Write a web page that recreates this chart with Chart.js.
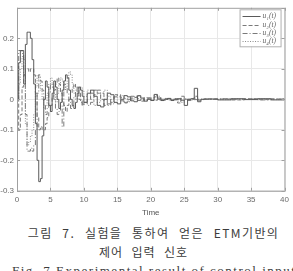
<!DOCTYPE html>
<html lang="ko">
<head>
    <meta charset="UTF-8">
    <title>ETM control input</title>
    <script src="https://cdn.jsdelivr.net/npm/chart.js"></script>
    <style>
        body {
            margin: 0;
            background: #fff;
            width: 293px;
            height: 271px;
            overflow: hidden;
        }
        #chartBox {
            width: 293px;
            height: 218px;
        }
        #caption {
            text-align: center;
            color: #3c3c3c;
            line-height: 19px;
            margin-top: 5px;
        }
        .ko {
            font-family: "Noto Sans CJK KR", sans-serif;
            font-size: 12px;
        }
        .en {
            font-family: "Liberation Serif", serif;
            font-size: 13px;
            letter-spacing: 1.5px;
            white-space: nowrap;
            text-align: left;
            padding-left: 12px;
        }
    </style>
</head>
<body>
    <div id="chartBox"><canvas id="inputChart" width="293" height="218"></canvas></div>
    <div id="caption">
        <div class="ko" style="padding-left:14px; letter-spacing:1.4px; word-spacing:5px">그림 7. 실험을 통하여 얻은 ETM기반의</div>
        <div class="ko" style="letter-spacing:1px; word-spacing:4px; padding-right:6px">제어 입력 신호</div>
        <div class="en">Fig. 7 Experimental result of control input</div>
    </div>

    <script>
        // time stamps (s) shared by all four inputs
        const time = [
            0, 0.25, 0.5, 0.75, 1, 1.25, 1.5, 1.75, 2, 2.25, 2.5, 2.75, 3, 3.25, 3.5, 3.75,
            4, 4.25, 4.5, 4.75, 5, 5.25, 5.5, 5.75, 6, 6.25, 6.5, 6.75, 7, 7.25, 7.5, 7.75,
            8, 8.25, 8.5, 8.75, 9, 9.25, 9.5, 9.75, 10,
            10.5, 11, 11.5, 12, 12.5, 13, 13.5, 14, 14.5, 15, 15.5, 16, 16.5, 17, 17.5, 18,
            18.5, 19, 19.5, 20, 20.5, 21, 21.5, 22, 22.5, 23, 23.5, 24, 24.5, 25, 25.5, 26,
            26.5, 27, 27.5, 28,
            30, 32, 34, 36, 38, 40
        ];

        const u1 = [
            0, 0.12, 0.16, 0.16, 0.05, 0.18, 0.22, 0.22, 0.2, 0.13, 0.05, -0.08, -0.2, -0.27, -0.26, -0.12,
            0.0, 0.06, 0.04, -0.02, -0.04, 0.02, 0.06, 0.04, 0.0, -0.03, -0.01, 0.03, 0.06, 0.08, 0.07, 0.03,
            0.0, -0.02, -0.03, -0.01, 0.02, 0.04, 0.03, 0.01, -0.01,
            0.02, 0.03, 0.01, -0.02, -0.025, 0.0, 0.02, 0.015, -0.01, -0.015, 0.0, 0.012, 0.008, -0.005, -0.008, 0.012,
            0.004, -0.006, 0.0, -0.004, 0.016, 0.004, -0.004, 0.0, 0.003, -0.004, 0.0, 0.002, -0.003, -0.02, 0.0, 0.002,
            0.036, -0.008, 0.0, 0.001,
            -0.002, 0.002, -0.001, 0.002, -0.002, 0.001
        ];
        const u2 = [
            0, -0.1, -0.05, 0.04, 0.08, 0.1, 0.1, 0.09, 0.1, 0.1, 0.08, 0.02, -0.06, -0.1, -0.09, -0.1,
            -0.1, -0.08, -0.06, -0.04, -0.02, 0.01, 0.03, 0.05, 0.07, 0.05, 0.02, -0.01, -0.02, -0.04, -0.02, 0.0,
            0.02, 0.04, 0.05, 0.04, 0.02, 0.0, -0.01, -0.02, -0.01,
            0.0, 0.02, 0.03, 0.02, 0.0, -0.02, -0.015, 0.0, 0.015, 0.01, -0.005, -0.012, 0.0, 0.01, 0.006, -0.004,
            -0.002, 0.006, 0.003, -0.003, 0.008, 0.0, -0.004, 0.002, 0.0, -0.002, 0.002, -0.012, 0.003, 0.0, -0.004, 0.0,
            0.01, -0.003, 0.0, 0.001,
            0.001, -0.002, 0.002, -0.001, 0.001, 0.0
        ];
        const u3 = [
            0, 0.16, 0.16, 0.15, 0.08, -0.05, -0.17, -0.17, -0.16, -0.17, -0.15, -0.1, 0.02, 0.08, 0.06, 0.03,
            -0.02, -0.05, -0.03, 0.02, 0.05, 0.04, 0.0, -0.03, -0.05, -0.04, -0.02, -0.09, 0.05, 0.04, 0.02, -0.01,
            -0.03, -0.02, 0.01, 0.03, 0.04, 0.02, 0.0, -0.02, -0.01,
            -0.02, -0.01, 0.015, 0.03, 0.02, 0.0, -0.02, -0.01, 0.008, 0.015, 0.005, -0.01, -0.006, 0.004, 0.01, 0.002,
            -0.006, 0.0, 0.005, 0.0, -0.003, 0.01, 0.0, -0.003, 0.002, 0.0, -0.002, 0.0, 0.01, -0.004, 0.0, 0.002,
            -0.001, 0.0, 0.001, 0.0,
            0.002, -0.001, 0.001, -0.002, 0.001, 0.0
        ];
        const u4 = [
            0, 0.05, 0.1, 0.14, 0.13, -0.08, -0.15, -0.14, -0.12, -0.1, -0.05, 0.04, 0.08, 0.06, 0.03, 0.0,
            -0.03, -0.02, 0.02, 0.05, 0.07, 0.05, 0.02, -0.01, 0.02, 0.05, 0.07, 0.06, 0.03, 0.04, 0.07, 0.09,
            0.08, 0.05, 0.02, 0.0, 0.01, 0.03, 0.04, 0.03, 0.01,
            0.03, 0.0, -0.02, -0.01, 0.02, 0.03, 0.01, -0.015, -0.01, 0.005, 0.012, 0.003, -0.008, 0.0, 0.007, 0.01,
            0.0, -0.005, 0.0, 0.004, 0.012, -0.002, 0.0, 0.003, -0.002, 0.0, 0.002, -0.006, -0.01, 0.002, 0.0, -0.002,
            0.004, 0.0, -0.001, 0.0,
            -0.001, 0.001, 0.0, 0.001, -0.001, 0.0
        ];

        const seriesNames = ['u\u2081(t)', 'u\u2082(t)', 'u\u2083(t)', 'u\u2084(t)'];
        const xTicks = [0, 5, 10, 15, 20, 25, 30, 35, 40];
        const yTicks = [-0.3, -0.2, -0.1, 0, 0.1, 0.2];

        const colors = ['#5a5a5a', '#7a7a7a', '#7a7a7a', '#8a8a8a'];
        const dashes = [[], [4, 2], [5, 2, 1, 2], [1, 1.5]];

        const datasets = [u1, u2, u3, u4].map((vals, i) => ({
            label: seriesNames[i],
            data: time.map((t, k) => ({ x: t, y: vals[k] })),
            borderColor: colors[i],
            borderWidth: 1,
            borderDash: dashes[i],
            pointRadius: 0,
            stepped: true,
            fill: false
        }));

        // box around the axes plus the small legend inside, matlab style
        const axesBox = {
            id: 'axesBox',
            afterDraw(chart) {
                const { ctx, chartArea: a } = chart;
                ctx.save();
                ctx.strokeStyle = '#a0a0a0';
                ctx.lineWidth = 1;
                ctx.strokeRect(a.left + 0.5, a.top + 0.5, a.right - a.left, a.bottom - a.top);

                // inward tick marks
                const xs = chart.scales.x, ys = chart.scales.y;
                ctx.beginPath();
                xTicks.forEach(v => {
                    const px = Math.round(xs.getPixelForValue(v)) + 0.5;
                    ctx.moveTo(px, a.bottom); ctx.lineTo(px, a.bottom - 3);
                    ctx.moveTo(px, a.top); ctx.lineTo(px, a.top + 3);
                });
                yTicks.concat([0.3]).forEach(v => {
                    const py = Math.round(ys.getPixelForValue(v)) + 0.5;
                    ctx.moveTo(a.left, py); ctx.lineTo(a.left + 3, py);
                    ctx.moveTo(a.right, py); ctx.lineTo(a.right - 3, py);
                });
                ctx.stroke();

                // legend
                const bw = 41, bh = 37;
                const bx = a.right - bw - 4, by = a.top + 1.5;
                ctx.fillStyle = '#fff';
                ctx.fillRect(bx, by, bw, bh);
                ctx.strokeStyle = '#b0b0b0';
                ctx.strokeRect(bx + 0.5, by + 0.5, bw, bh);
                ctx.font = 'italic 7.5px "Liberation Serif", serif';
                ctx.textBaseline = 'middle';
                chart.data.datasets.forEach((ds, i) => {
                    const ly = by + 7 + i * 8.3;
                    ctx.strokeStyle = ds.borderColor;
                    ctx.setLineDash(ds.borderDash);
                    ctx.beginPath();
                    ctx.moveTo(bx + 3, Math.round(ly) + 0.5);
                    ctx.lineTo(bx + 21, Math.round(ly) + 0.5);
                    ctx.stroke();
                    ctx.setLineDash([]);
                    ctx.fillStyle = '#666';
                    ctx.fillText(ds.label, bx + 23, ly);
                });
                ctx.restore();
            }
        };

        const ctx = document.getElementById('inputChart').getContext('2d');
        new Chart(ctx, {
            type: 'line',
            data: { datasets: datasets },
            options: {
                responsive: false,
                animation: false,
                layout: { padding: { top: 4, right: 6, left: 0, bottom: 0 } },
                plugins: {
                    legend: { display: false },
                    tooltip: { enabled: false }
                },
                scales: {
                    x: {
                        type: 'linear',
                        min: 0,
                        max: 40,
                        afterBuildTicks: axis => { axis.ticks = xTicks.map(v => ({ value: v })); },
                        grid: { color: '#e8e8e8', drawTicks: false },
                        border: { display: false },
                        ticks: {
                            color: '#6a6a6a',
                            padding: 4,
                            font: { family: 'Liberation Sans', size: 8 },
                            maxRotation: 0
                        },
                        title: {
                            display: true,
                            text: 'Time',
                            color: '#555',
                            padding: { top: 0, bottom: 0 },
                            font: { family: 'Liberation Sans', size: 8 }
                        }
                    },
                    y: {
                        min: -0.3,
                        max: 0.3,
                        afterBuildTicks: axis => { axis.ticks = yTicks.map(v => ({ value: v })); },
                        afterFit: axis => { axis.width = 17; },
                        grid: { color: '#e8e8e8', drawTicks: false },
                        border: { display: false },
                        ticks: {
                            color: '#6a6a6a',
                            padding: 3,
                            font: { family: 'Liberation Sans', size: 8 },
                            callback: v => String(Math.round(v * 10) / 10)
                        }
                    }
                }
            },
            plugins: [axesBox]
        });
    </script>
</body>
</html>
